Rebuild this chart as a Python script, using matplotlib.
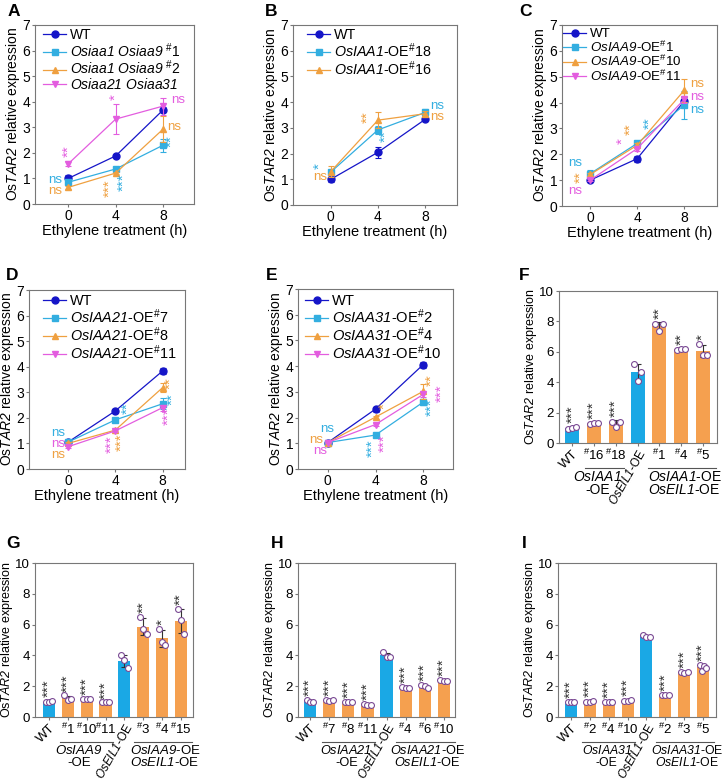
import matplotlib
matplotlib.use('Agg')
import matplotlib.pyplot as plt
import matplotlib.transforms as mtransforms
import numpy as np

plt.rcParams['font.family'] = ['Liberation Sans', 'DejaVu Sans']
plt.rcParams['mathtext.fontset'] = 'custom'
# digits inside \it fall back to the rm font, so rm is italic here; sf stays upright
plt.rcParams['mathtext.rm'] = 'Liberation Sans:italic'
plt.rcParams['mathtext.it'] = 'Liberation Sans:italic'
plt.rcParams['mathtext.sf'] = 'Liberation Sans'
plt.rcParams['mathtext.bf'] = 'Liberation Sans:bold'

# ---------------- data: time course panels (A-E) ----------------
times = [0, 4, 8]
SH = r'$^{\mathsf{\#}}$'

A_labels = ['WT', r'$\it{Osiaa1\ Osiaa9}$ ' + SH + '1', r'$\it{Osiaa1\ Osiaa9}$ ' + SH + '2',
            r'$\it{Osiaa21\ Osiaa31}$']
A_mean = [[1.0, 1.88, 3.68], [0.85, 1.37, 2.3], [0.65, 1.21, 2.93], [1.57, 3.32, 3.83]]
A_sd = [[0.12, 0.05, 0.1], [0.1, 0.05, 0.25], [0.06, 0.05, 0.5], [0.1, 0.6, 0.33]]

B_labels = ['WT', r'$\it{OsIAA1}$-OE' + SH + '18', r'$\it{OsIAA1}$-OE' + SH + '16']
B_mean = [[1.0, 2.05, 3.33], [1.28, 2.92, 3.6], [1.3, 3.3, 3.55]]
B_sd = [[0.1, 0.22, 0.05], [0.1, 0.15, 0.15], [0.22, 0.3, 0.1]]

C_labels = ['WT', r'$\it{OsIAA9}$-OE' + SH + '1', r'$\it{OsIAA9}$-OE' + SH + '10',
            r'$\it{OsIAA9}$-OE' + SH + '11']
C_mean = [[1.0, 1.83, 4.05], [1.25, 2.42, 3.9], [1.22, 2.35, 4.47], [1.0, 2.22, 4.12]]
C_sd = [[0.05, 0.12, 0.15], [0.15, 0.1, 0.55], [0.05, 0.08, 0.45], [0.05, 0.08, 0.15]]

D_labels = ['WT', r'$\it{OsIAA21}$-OE' + SH + '7', r'$\it{OsIAA21}$-OE' + SH + '8',
            r'$\it{OsIAA21}$-OE' + SH + '11']
D_mean = [[1.05, 2.27, 3.83], [1.05, 1.92, 2.55], [1.0, 1.52, 3.18], [0.87, 1.49, 2.4]]
D_sd = [[0.05, 0.08, 0.12], [0.05, 0.05, 0.22], [0.05, 0.05, 0.17], [0.05, 0.05, 0.12]]

E_labels = ['WT', r'$\it{OsIAA31}$-OE' + SH + '2', r'$\it{OsIAA31}$-OE' + SH + '4',
            r'$\it{OsIAA31}$-OE' + SH + '10']
E_mean = [[1.03, 2.33, 4.06], [1.03, 1.32, 2.6], [1.03, 2.02, 3.02], [1.03, 1.73, 2.9]]
E_sd = [[0.05, 0.1, 0.12], [0.03, 0.05, 0.12], [0.03, 0.06, 0.3], [0.03, 0.06, 0.1]]

# significance marks (x, y, text, series index)
A_notes = [(0.0, 2.06, '**', 3), (-1.13, 0.95, 'ns', 1), (-1.13, 0.52, 'ns', 2),
           (4.0, 4.19, '*', 3), (3.52, 0.62, '***', 2), (4.65, 0.85, '***', 1),
           (9.3, 4.08, 'ns', 3), (8.95, 3.0, 'ns', 2), (8.7, 2.45, '**', 1)]
B_notes = [(-0.99, 1.53, '*', 1), (-0.9, 1.1, 'ns', 2), (3.15, 3.41, '**', 2),
           (4.68, 2.66, '**', 1), (9.02, 3.85, 'ns', 1), (9.02, 3.44, 'ns', 2)]
C_notes = [(-1.27, 1.68, 'ns', 1), (-0.85, 1.1, '**', 2), (-1.27, 0.57, 'ns', 3),
           (3.46, 2.97, '**', 2), (5.07, 3.21, '**', 1), (2.76, 2.53, '*', 3),
           (9.15, 4.7, 'ns', 2), (9.15, 4.21, 'ns', 3), (9.15, 3.73, 'ns', 1)]
D_notes = [(-0.85, 1.42, 'ns', 1), (-0.85, 0.98, 'ns', 3), (-0.85, 0.53, 'ns', 2),
           (3.66, 0.98, '***', 3), (4.51, 1.04, '***', 2), (5.07, 2.39, '**', 1),
           (8.68, 3.35, '**', 2), (8.82, 2.72, '**', 1), (8.54, 2.05, '***', 3)]
E_notes = [(-0.08, 1.56, 'ns', 1), (-0.99, 1.14, 'ns', 2), (-0.62, 0.71, 'ns', 3),
           (4.79, 2.44, '*', 2), (3.75, 0.82, '***', 1), (4.73, 0.99, '***', 3),
           (8.73, 3.45, '**', 2), (8.73, 2.41, '***', 1), (9.55, 2.93, '***', 3)]

# ---------------- data: bar panels (F-I) ----------------
EIL = r'$\it{OsEIL1}$-OE'
F_ticks = ['WT', SH + '16', SH + '18', EIL, SH + '1', SH + '4', SH + '5']
F_pts = [[0.9, 1.0, 1.05], [1.25, 1.3, 1.3], [1.4, 1.05, 1.4], [5.2, 4.1, 4.7],
         [7.85, 7.4, 7.8], [6.1, 6.2, 6.2], [6.5, 5.8, 5.8]]
F_sig = ['***', '***', '***', '', '**', '**', '*']
F_grp1 = r'$\it{OsIAA1}$' + '\n-OE'
F_grp2 = r'$\it{OsIAA1}$-OE' + '\n' + EIL

G_ticks = ['WT', SH + '1', SH + '10', SH + '11', EIL, SH + '3', SH + '4', SH + '15']
G_pts = [[0.95, 1.0, 1.05], [1.4, 1.1, 1.15], [1.2, 1.2, 1.2], [0.95, 0.95, 0.95],
         [4.0, 3.7, 3.2], [6.5, 5.7, 5.4], [5.7, 4.9, 4.7], [7.0, 6.3, 5.4]]
G_sig = ['***', '***', '***', '***', '', '**', '*', '**']
G_grp1 = r'$\it{OsIAA9}$' + '\n-OE'
G_grp2 = r'$\it{OsIAA9}$-OE' + '\n' + EIL

H_ticks = ['WT', SH + '7', SH + '8', SH + '11', EIL, SH + '4', SH + '6', SH + '10']
H_pts = [[1.1, 0.95, 1.0], [1.1, 1.05, 1.1], [1.0, 1.0, 1.0], [0.85, 0.8, 0.8],
         [4.2, 3.9, 3.9], [1.95, 1.9, 1.9], [2.1, 2.0, 1.9], [2.4, 2.35, 2.35]]
H_sig = ['***', '***', '***', '***', '', '***', '***', '***']
H_grp1 = r'$\it{OsIAA21}$' + '\n-OE'
H_grp2 = r'$\it{OsIAA21}$-OE' + '\n' + EIL

I_ticks = ['WT', SH + '2', SH + '4', SH + '10', EIL, SH + '2', SH + '3', SH + '5']
I_pts = [[1.0, 1.0, 1.0], [1.0, 1.0, 1.05], [1.0, 1.0, 1.0], [1.05, 1.05, 1.1],
         [5.3, 5.2, 5.2], [1.4, 1.4, 1.45], [2.9, 2.85, 2.9], [3.4, 3.0, 3.3, 3.2]]
I_sig = ['***', '***', '***', '***', '', '***', '***', '***']
I_grp1 = r'$\it{OsIAA31}$' + '\n-OE'
I_grp2 = r'$\it{OsIAA31}$-OE' + '\n' + EIL

# ---------------- styling ----------------
line_cols = ['#1515c8', '#33aee0', '#efa040', '#e35ddf']
markers = ['o', 's', '^', 'v']
blue_bar = '#1aa8e5'
orange_bar = '#f5a04f'
spine_col = '#777777'
ylab = r'Os$\it{TAR2}$ relative expression'

W, H = 724, 782
fig = plt.figure(figsize=(W / 100, H / 100), dpi=100)


def rect(l, r, t, b):
    return [l / W, 1 - b / H, (r - l) / W, (b - t) / H]


def style_axes(ax, fs):
    for s in ax.spines.values():
        s.set_color(spine_col)
        s.set_linewidth(0.8)
    ax.tick_params(direction='out', length=2.5, width=0.8, color=spine_col,
                   labelsize=fs, pad=1)


def line_panel(box, xlim, labels, means, sds, notes, leg):
    # leg = (handle x offset px, first row y offset px, fontsize)
    ax = fig.add_axes(rect(*box))
    for i in range(len(labels)):
        ax.errorbar(times, means[i], yerr=sds[i], fmt='none', ecolor=line_cols[i],
                    elinewidth=0.8, capsize=2.5, capthick=0.8)
        ax.plot(times, means[i], color=line_cols[i], marker=markers[i], ms=5,
                lw=0.9, label=labels[i])
    for x, y, txt, ci in notes:
        if '*' in txt:
            ax.text(x, y, txt, color=line_cols[ci], fontsize=11, rotation=90,
                    ha='center', va='center')
        else:
            ax.text(x, y, txt, color=line_cols[ci], fontsize=9.5,
                    ha='center', va='center')
    ax.set_xlim(*xlim)
    ax.set_ylim(0, 7)
    ax.set_xticks(times)
    ax.set_yticks(range(8))
    style_axes(ax, 10)
    ax.set_xlabel('Ethylene treatment (h)', fontsize=10.5, labelpad=1)
    ax.set_ylabel(ylab, fontsize=10, labelpad=0.5)
    dx, dy, fs = leg
    axw = box[1] - box[0]
    axh = box[3] - box[2]
    em = fs * 100 / 72
    ax.legend(loc='upper left', frameon=False, fontsize=fs,
              bbox_to_anchor=(dx / axw, 1 - (dy - 0.6 * em) / axh),
              handlelength=23 / em, handletextpad=0.3, labelspacing=-0.05,
              borderaxespad=0, borderpad=0)
    return ax


def bar_panel(box, xlim, ticks, pts, sig, n1, grp1, grp2, gfs, g1shift):
    ax = fig.add_axes(rect(*box))
    x = np.arange(len(ticks))
    eil = n1 + 1
    cols = [blue_bar if (i == 0 or i == eil) else orange_bar for i in x]
    means = [np.mean(p) for p in pts]
    sds = [np.std(p, ddof=1) for p in pts]
    ax.bar(x, means, width=0.64, color=cols, zorder=1)
    ax.errorbar(x, means, yerr=sds, fmt='none', ecolor='#333333', elinewidth=0.8,
                capsize=2.5, capthick=0.8, zorder=3)
    for i, p in enumerate(pts):
        off = np.linspace(-0.18, 0.18, len(p))
        ax.scatter(x[i] + off, p, s=18, facecolor='white', edgecolor='#7b4b94',
                   linewidth=0.8, zorder=4)
        if sig[i]:
            top = max(max(p), means[i] + sds[i])
            ax.text(x[i], top + 0.25, sig[i], rotation=90, fontsize=11,
                    ha='center', va='bottom', color='#333333')
    ax.set_xlim(*xlim)
    ax.set_ylim(0, 10)
    ax.set_yticks(range(0, 11, 2))
    ax.set_xticks(x)
    ax.set_xticklabels(ticks)
    style_axes(ax, 9.5)
    for i, lbl in enumerate(ax.get_xticklabels()):
        if i == 0 or i == eil:
            lbl.set_rotation(45 if i == 0 else 60)
            lbl.set_ha('right')
            lbl.set_va('top')
            lbl.set_rotation_mode('anchor')
            if i == eil:
                lbl.set_fontsize(8.5)
    ax.set_ylabel(ylab, fontsize=9, labelpad=0.5)
    # group lines and labels below the tick labels
    trans = mtransforms.blended_transform_factory(ax.transData, ax.transAxes)
    hpx = box[3] - box[2]
    yl = -25.0 / hpx
    g1 = [1, n1]
    g2 = [eil + 1, len(ticks) - 1]
    ax.plot([g1[0] - 0.4, g1[1] + 0.4], [yl, yl], transform=trans, clip_on=False,
            color='#555555', lw=0.8)
    ax.plot([g2[0] - 0.5, g2[1] + 0.6], [yl, yl], transform=trans, clip_on=False,
            color='#555555', lw=0.8)
    ax.text((g1[0] + g1[1]) / 2 + g1shift, yl - 2.0 / hpx, grp1, transform=trans,
            ha='center', va='top', fontsize=gfs, linespacing=0.95)
    ax.text((g2[0] + g2[1]) / 2 + 0.15, yl - 2.0 / hpx, grp2, transform=trans,
            ha='center', va='top', fontsize=gfs, linespacing=0.95)
    return ax


line_panel((35, 194, 25, 204), (-2.8, 10.6), A_labels, A_mean, A_sd, A_notes, (8, 11, 10))
line_panel((293, 457, 25, 205), (-3.2, 10.7), B_labels, B_mean, B_sd, B_notes, (14, 12, 10.3))
line_panel((562, 717, 25, 206), (-2.4, 10.8), C_labels, C_mean, C_sd, C_notes, (1, 11, 9.6))
line_panel((29, 185, 290, 469), (-3.3, 9.9), D_labels, D_mean, D_sd, D_notes, (14, 13, 10.4))
line_panel((298, 453, 289, 469), (-2.5, 10.5), E_labels, E_mean, E_sd, E_notes, (7, 14, 10.6))

bar_panel((559, 717, 291, 443), (-0.6, 6.64), F_ticks, F_pts, F_sig, 2, F_grp1, F_grp2, 10, -0.35)
bar_panel((35, 193, 563, 717), (-0.74, 7.64), G_ticks, G_pts, G_sig, 3, G_grp1, G_grp2, 9.5, -0.4)
bar_panel((298, 455, 563, 717), (-0.63, 7.58), H_ticks, H_pts, H_sig, 3, H_grp1, H_grp2, 9.2, -0.1)
bar_panel((558, 716, 563, 717), (-0.69, 7.69), I_ticks, I_pts, I_sig, 3, I_grp1, I_grp2, 8.8, -0.1)

letters = [('A', 8, 11), ('B', 265, 11), ('C', 519, 11),
           ('D', 6, 275), ('E', 266, 275), ('F', 519, 275),
           ('G', 6, 543), ('H', 271, 543), ('I', 522, 543)]
for t, lx, ly in letters:
    fig.text(lx / W, 1 - ly / H, t, fontsize=12.5, fontweight='bold',
             ha='left', va='center')

fig.savefig('out.png', dpi=100)
